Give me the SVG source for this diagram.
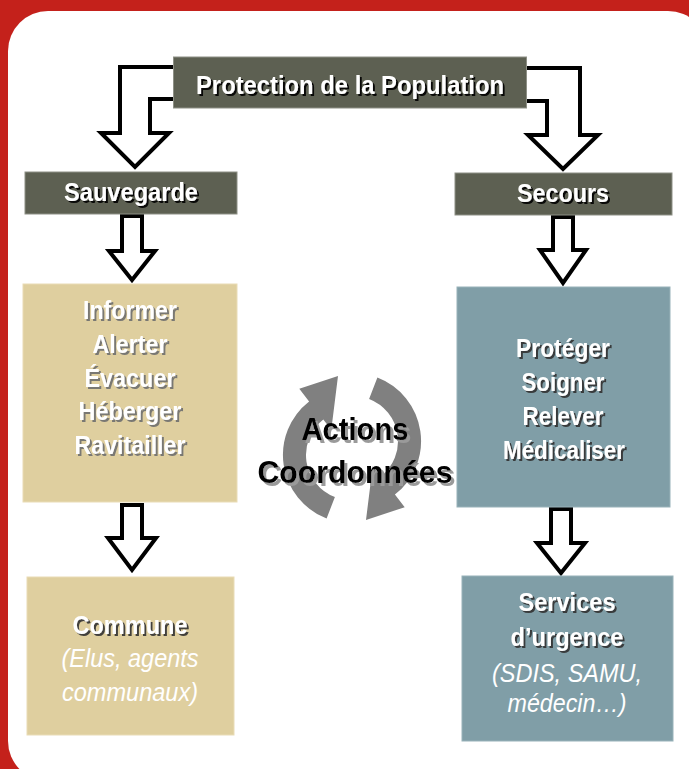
<svg xmlns="http://www.w3.org/2000/svg" width="689" height="769" viewBox="0 0 689 769">
<defs>
<filter id="shBlack" x="-10%" y="-20%" width="130%" height="150%"><feDropShadow dx="2" dy="2" stdDeviation="0.4" flood-color="#000" flood-opacity="0.9"/></filter>
<filter id="shGray" x="-10%" y="-20%" width="130%" height="150%"><feDropShadow dx="2" dy="2" stdDeviation="0.4" flood-color="#6e6e6e" flood-opacity="0.9"/></filter>
<filter id="shDark" x="-10%" y="-20%" width="130%" height="150%"><feDropShadow dx="2" dy="2" stdDeviation="0.4" flood-color="#333" flood-opacity="0.9"/></filter>
<filter id="shLight" x="-10%" y="-20%" width="130%" height="150%"><feDropShadow dx="3" dy="3" stdDeviation="0.5" flood-color="#9a9a9a" flood-opacity="1"/></filter>
<path id="circArrow" d="M326.6,518.5 A68,68 0 0 1 309.1,401.4 L299.3,388.8 L338,376 L331.3,429.8 L323.3,419.5 A45,45 0 0 0 334.9,497 Z"/>
</defs>
<style>
.dark{fill:#5d6052;stroke:#8e9086;stroke-width:1}
.beige{fill:#dfcf9f;stroke:#e9dcb6;stroke-width:1}
.blue{fill:#809ea7;stroke:#98b2b9;stroke-width:1}
.arrow{fill:#fff;stroke:#000;stroke-width:4;stroke-linejoin:miter}
.t{font-family:"Liberation Sans",Arial,sans-serif;font-weight:bold;font-size:26px;fill:#fff;text-anchor:middle}
.i{font-family:"Liberation Sans",Arial,sans-serif;font-style:italic;font-size:25px;fill:#fff;text-anchor:middle}
.k{font-family:"Liberation Sans",Arial,sans-serif;font-weight:bold;font-size:32px;fill:#000;text-anchor:middle}
</style>
<rect x="0" y="0" width="689" height="769" fill="#c4211b"/>
<rect x="8" y="11" width="700" height="770" rx="40" ry="40" fill="#fff"/>
<g id="connectors">
<path class="arrow" d="M176,67 L120,67 L120,133 L101,133 L135,167 L169,133 L150,133 L150,99 L176,99"/>
<path class="arrow" d="M524,68 L580,68 L580,135 L598,135 L563,169 L528,135 L547,135 L547,101 L524,101"/>
<path class="arrow" d="M122,216 L142,216 L142,251 L155,251 L132,280 L109,251 L122,251 Z"/>
<path class="arrow" d="M553,217 L573,217 L573,250 L586,250 L563,283 L540,250 L553,250 Z"/>
<path class="arrow" d="M122,505 L142,505 L142,538 L156,538 L132,570 L108,538 L122,538 Z"/>
<path class="arrow" d="M551,509 L571,509 L571,543 L585,543 L561,573 L537,543 L551,543 Z"/>
</g>
<g id="protection">
<rect class="dark" x="173.5" y="57" width="353" height="51"/>
<text class="t" x="350" y="94" textLength="308" lengthAdjust="spacingAndGlyphs" filter="url(#shBlack)">Protection de la Population</text>
</g>
<g id="sauvegarde">
<rect class="dark" x="25" y="172" width="212" height="42"/>
<text class="t" x="131" y="201" textLength="134" lengthAdjust="spacingAndGlyphs" filter="url(#shBlack)">Sauvegarde</text>
</g>
<g id="secours">
<rect class="dark" x="455" y="173" width="217" height="42"/>
<text class="t" x="563" y="202" textLength="92" lengthAdjust="spacingAndGlyphs" filter="url(#shBlack)">Secours</text>
</g>
<g id="sauvegarde-actions">
<rect class="beige" x="23" y="284" width="214" height="218"/>
<g filter="url(#shGray)">
<text class="t" x="130" y="319" textLength="94" lengthAdjust="spacingAndGlyphs">Informer</text>
<text class="t" x="130" y="353" textLength="75" lengthAdjust="spacingAndGlyphs">Alerter</text>
<text class="t" x="130" y="387" textLength="91" lengthAdjust="spacingAndGlyphs">Évacuer</text>
<text class="t" x="130" y="420" textLength="103" lengthAdjust="spacingAndGlyphs">Héberger</text>
<text class="t" x="130" y="454" textLength="111" lengthAdjust="spacingAndGlyphs">Ravitailler</text>
</g>
</g>
<g id="secours-actions">
<rect class="blue" x="457" y="287" width="213" height="220"/>
<g filter="url(#shDark)">
<text class="t" x="563" y="357" textLength="94" lengthAdjust="spacingAndGlyphs">Protéger</text>
<text class="t" x="563" y="391" textLength="83" lengthAdjust="spacingAndGlyphs">Soigner</text>
<text class="t" x="563" y="425" textLength="81" lengthAdjust="spacingAndGlyphs">Relever</text>
<text class="t" x="564" y="459" textLength="122" lengthAdjust="spacingAndGlyphs">Médicaliser</text>
</g>
</g>
<g id="commune">
<rect class="beige" x="27" y="577" width="207" height="158"/>
<text class="t" x="130" y="634" textLength="115" lengthAdjust="spacingAndGlyphs" filter="url(#shDark)">Commune</text>
<text class="i" x="130" y="667" textLength="137" lengthAdjust="spacingAndGlyphs">(Elus, agents</text>
<text class="i" x="130" y="701" textLength="136" lengthAdjust="spacingAndGlyphs">communaux)</text>
</g>
<g id="services">
<rect class="blue" x="462" y="576" width="211" height="165"/>
<g filter="url(#shDark)">
<text class="t" x="567" y="611" textLength="97" lengthAdjust="spacingAndGlyphs">Services</text>
<text class="t" x="567" y="646" textLength="113" lengthAdjust="spacingAndGlyphs">d’urgence</text>
</g>
<text class="i" x="567" y="682" textLength="150" lengthAdjust="spacingAndGlyphs">(SDIS, SAMU,</text>
<text class="i" x="567" y="712" textLength="119" lengthAdjust="spacingAndGlyphs">médecin…)</text>
</g>
<g id="actions-coordonnees">
<use href="#circArrow" fill="#808080"/>
<use href="#circArrow" fill="#808080" transform="rotate(180 352 448)"/>
<g filter="url(#shLight)">
<text class="k" x="355" y="440" textLength="107" lengthAdjust="spacingAndGlyphs">Actions</text>
<text class="k" x="355" y="483" textLength="195" lengthAdjust="spacingAndGlyphs">Coordonnées</text>
</g>
</g>
</svg>
